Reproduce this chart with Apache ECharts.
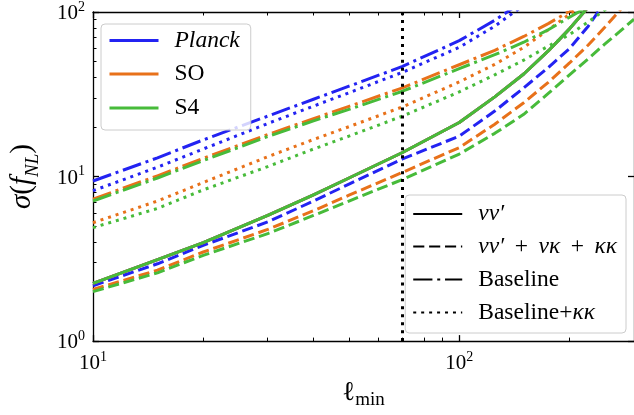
<!DOCTYPE html>
<html><head><meta charset="utf-8">
<script src="https://cdn.jsdelivr.net/npm/echarts@6/dist/echarts.min.js"></script>
<style>html,body{margin:0;padding:0;background:#fff}#c{width:634px;height:415px}</style>
</head><body><div id="c"></div>
<script>
// ---- data ----
const ell         = [10,   15,   20,   30,   40,   50,   70,   100,  125,  150,  175,  200,  225,  250,  275,  300];
const nuSolid     = [2.24, 3.13, 3.97, 5.8,  7.75, 9.8,  14.0, 21.3, 30.5, 42,   58,   79,   107,  140,  180,  230];
const planckDash  = [2.17, 2.95, 3.82, 5.3,  7.1,  9.0,  12.8, 17.6, 25,   34.6, 46,   60,   82,   115,  160,  210];
const soDash      = [2.06, 2.7,  3.48, 4.77, 6.2,  7.7,  10.6, 15.0, 20.8, 28.1, 37.4, 49,   63,   81,   103,  126];
const s4Dash      = [2.0,  2.6,  3.32, 4.5,  5.8,  7.1,  9.6,  13.7, 18.3, 23.9, 32,   41.5, 52,   64,   76.5, 90.4];
const planckBase  = [9.4,  13.0, 16.7, 23.3, 29.5, 35.4, 46.7, 67,   89,   117,  150,  190,  240,  290,  350,  400];
const planckBaseK = [8.2,  11.4, 14.7, 21.0, 26.8, 32.3, 43,   61,   82,   110,  145,  185,  230,  280,  340,  400];
const soBase      = [7.3,  10.1, 12.9, 18.0, 22.5, 26.7, 34.6, 47.8, 58.5, 71,   85,   101,  120,  140,  160,  180];
const s4Base      = [7.1,  9.8,  12.5, 17.5, 21.8, 25.6, 33.0, 45.3, 55,   65.5, 78,   93,   108,  125,  145,  165];
const soBaseK     = [5.24, 7.1,  9.2,  13.2, 16.8, 20.1, 26.5, 37.6, 48,   61,   78,   97,   118,  140,  165,  190];
const s4BaseK     = [4.89, 6.4,  8.3,  11.5, 14.7, 17.6, 23.3, 32.7, 41.5, 51,   62,   73,   87,   103,  125,  145];
const lCut = 70;
const experiments = ['Planck', 'SO', 'S4'];
const styleNames = ['nn', 'nnk', 'base', 'basek'];
const xMajor = [10, 100];
const xMinor = [20, 30, 40, 50, 60, 70, 80, 90, 200, 300];
const yMajor = [1, 10, 100];
const yMinor = [2, 3, 4, 5, 6, 7, 8, 9, 20, 30, 40, 50, 60, 70, 80, 90];

// ---- styles ----
const COL = { Planck: '#2323f2', SO: '#e8711a', S4: '#47bb3a' };
const LW = 3;
const DASH = {
  nn: 'solid',
  nnk: [3.7 * LW, 1.6 * LW],
  base: [6.4 * LW, 1.6 * LW, 1 * LW, 1.6 * LW],
  basek: [1 * LW, 1.65 * LW]
};
const SERIF = 'Liberation Serif';

function mk(name, styleKey, vals, color) {
  return {
    type: 'line', name: name,
    data: ell.map((x, i) => [x, vals[i]]),
    symbol: 'none', showSymbol: false, smooth: false,
    clip: true, silent: true, emphasis: { disabled: true },
    lineStyle: { color: color, width: LW, type: DASH[styleKey], cap: 'butt', join: 'round' },
    itemStyle: { color: color }
  };
}
const groups = {
  Planck: [nuSolid, planckDash, planckBase, planckBaseK],
  SO: [nuSolid, soDash, soBase, soBaseK],
  S4: [nuSolid, s4Dash, s4Base, s4BaseK]
};
const series = [];
experiments.forEach(e => {
  styleNames.forEach((s, k) => series.push(mk(e, s, groups[e][k], COL[e])));
});
styleNames.forEach(s => series.push(mk(s, s, [], '#000')));
series[series.length - 1].markLine = {
  symbol: ['none', 'none'], silent: true, label: { show: false },
  lineStyle: { color: '#000', type: [LW, 1.65 * LW], width: LW, cap: 'butt' },
  emphasis: { disabled: true },
  data: [{ xAxis: lCut }]
};

const supRich = {
  b: { fontFamily: SERIF, fontSize: 21, lineHeight: 24, verticalAlign: 'bottom', color: '#000' },
  s: { fontFamily: SERIF, fontSize: 14, lineHeight: 14, verticalAlign: 'top', color: '#000' }
};
const pow10 = v => '{b|10}{s|' + Math.round(Math.log10(v)) + '}';

const axisBase = (extra) => Object.assign({
  type: 'log', logBase: 10, splitLine: { show: false }, minorTick: { show: false },
}, extra);

const xMin = 10, xMax = 300, yMin = 1, yMax = 100;
const xAxes = [
  axisBase({ min: xMin, max: xMax, position: 'bottom',
    axisLine: { show: true, onZero: false, lineStyle: { color: '#000', width: 1.3 } },
    axisTick: { show: true, inside: true, length: 3.5, customValues: xMinor, lineStyle: { color: '#000', width: 1 } },
    axisLabel: { show: true, customValues: xMajor, formatter: pow10, rich: supRich, margin: 9 },
    name: '{l|ℓ}{s|min}', nameLocation: 'middle', nameGap: 34,
    nameTextStyle: { rich: {
      l: { fontFamily: SERIF, fontSize: 27, lineHeight: 31, verticalAlign: 'top', color: '#000' },
      s: { fontFamily: SERIF, fontSize: 19, lineHeight: 19, verticalAlign: 'bottom', color: '#000' } } }
  }),
  axisBase({ min: xMin, max: xMax, position: 'bottom',
    axisLine: { show: false, onZero: false },
    axisTick: { show: true, inside: true, length: 6, customValues: xMajor, lineStyle: { color: '#000', width: 1.3 } },
    axisLabel: { show: false } }),
  axisBase({ min: xMin, max: xMax, position: 'top',
    axisLine: { show: true, onZero: false, lineStyle: { color: '#000', width: 1.3 } },
    axisTick: { show: true, inside: true, length: 3.5, customValues: xMinor, lineStyle: { color: '#000', width: 1 } },
    axisLabel: { show: false } }),
  axisBase({ min: xMin, max: xMax, position: 'top',
    axisLine: { show: false, onZero: false },
    axisTick: { show: true, inside: true, length: 6, customValues: xMajor, lineStyle: { color: '#000', width: 1.3 } },
    axisLabel: { show: false } })
];
const yAxes = [
  axisBase({ min: yMin, max: yMax, position: 'left',
    axisLine: { show: true, onZero: false, lineStyle: { color: '#000', width: 1.3 } },
    axisTick: { show: true, inside: true, length: 3.5, customValues: yMinor, lineStyle: { color: '#000', width: 1 } },
    axisLabel: { show: true, customValues: yMajor, formatter: pow10, rich: supRich, margin: 8 },
    name: '{i|σ}{g|(}{i|f}{s|NL}{g|)}', nameLocation: 'middle', nameRotate: 90, nameGap: 51,
    nameTextStyle: { rich: {
      i: { fontFamily: SERIF, fontStyle: 'italic', fontSize: 29, lineHeight: 34, verticalAlign: 'top', color: '#000' },
      g: { fontFamily: SERIF, fontSize: 29, lineHeight: 34, verticalAlign: 'top', color: '#000' },
      s: { fontFamily: SERIF, fontStyle: 'italic', fontSize: 19, lineHeight: 20, verticalAlign: 'bottom', color: '#000' } } }
  }),
  axisBase({ min: yMin, max: yMax, position: 'left',
    axisLine: { show: false, onZero: false },
    axisTick: { show: true, inside: true, length: 6, customValues: yMajor, lineStyle: { color: '#000', width: 1.3 } },
    axisLabel: { show: false } }),
  axisBase({ min: yMin, max: yMax, position: 'right',
    axisLine: { show: true, onZero: false, lineStyle: { color: '#000', width: 1.3 } },
    axisTick: { show: true, inside: true, length: 6, customValues: yMajor, lineStyle: { color: '#000', width: 1.3 } },
    axisLabel: { show: false } })
];

const FS = 23.5;
const legendCommon = {
  orient: 'vertical', itemWidth: 49, itemHeight: 14,
  backgroundColor: 'rgba(255,255,255,0.8)', borderColor: '#cccccc', borderWidth: 1, borderRadius: 4,
  itemStyle: { color: 'rgba(0,0,0,0)', borderColor: 'rgba(0,0,0,0)', borderWidth: 0, opacity: 0 },
  selectedMode: false, inactiveColor: '#000'
};
const lgRich = {
  m0: { fontFamily: SERIF, fontStyle: 'italic', fontSize: FS, lineHeight: 24, color: '#000', padding: [0, 0, 0, 11] },
  r0: { fontFamily: SERIF, fontSize: FS, lineHeight: 24, color: '#000', padding: [0, 0, 0, 11] },
  m: { fontFamily: SERIF, fontStyle: 'italic', fontSize: FS, lineHeight: 24, color: '#000' },
  r: { fontFamily: SERIF, fontSize: FS, lineHeight: 24, color: '#000' },
  p: { fontFamily: SERIF, fontSize: FS, lineHeight: 24, color: '#000', padding: [0, 10.5, 0, 10.5] }
};
const legendText = {
  Planck: '{m0|Planck}', SO: '{r0|SO}', S4: '{r0|S4}',
  nn: '{m0|νν′}',
  nnk: '{m0|νν′}{p|+}{m|νκ}{p|+}{m|κκ}',
  base: '{r0|Baseline}',
  basek: '{r0|Baseline+}{m|κκ}'
};
const lgText = { fontFamily: SERIF, fontSize: FS, color: '#000', rich: lgRich };

const option = {
  animation: false,
  backgroundColor: '#fff',
  textStyle: { fontFamily: SERIF },
  grid: { left: 89, right: -4, top: 12, bottom: 72, containLabel: false },
  xAxis: xAxes,
  yAxis: yAxes,
  legend: [
    Object.assign({}, legendCommon, {
      data: experiments, left: 101, top: 24, itemGap: 10, padding: [5, 11, 10, 7],
      lineStyle: { type: 'solid', width: LW },
      formatter: n => legendText[n], textStyle: lgText
    }),
    Object.assign({}, legendCommon, {
      data: styleNames, right: 8, top: 195, itemGap: 9, padding: [7.5, 9, 8.5, 7],
      formatter: n => legendText[n], textStyle: lgText
    })
  ],
  series: series
};
const chart = echarts.init(document.getElementById('c'), null, { renderer: 'canvas' });
chart.setOption(option);
</script></body></html>
